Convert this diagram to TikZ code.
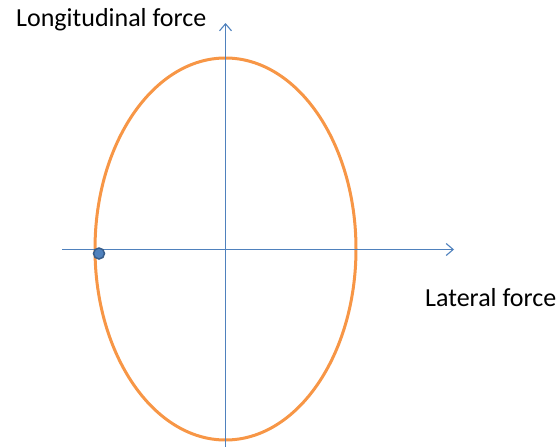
\documentclass[tikz,border=0pt]{standalone}
\usepackage{fontspec}
\setmainfont{Carlito}
\usetikzlibrary{arrows.meta}
\definecolor{axisblue}{RGB}{79,129,189}
\definecolor{ellorange}{RGB}{247,150,70}
\definecolor{dotedge}{RGB}{56,93,138}
\tikzset{
  axis/.style={draw=axisblue, line width=1.1pt, -{Straight Barb[length=7pt,width=12pt,line width=1.1pt]}},
  lbl/.style={font=\fontsize{26}{30}\selectfont, inner sep=0pt, anchor=base west, text=black},
  dotmark/.style={circle, fill=axisblue, draw=dotedge, line width=1.5pt, minimum size=11pt, inner sep=0pt}
}
\begin{document}
\begin{tikzpicture}[x=1pt,y=-1pt]
\useasboundingbox (0,0) rectangle (560,447);
\coordinate (xs) at (62,249.5);
\coordinate (xe) at (454,249.5);
\coordinate (ys) at (225.5,447);
\coordinate (ye) at (225.5,23);
\draw[ellorange, line width=3pt] (225.5,249) ellipse [x radius=130.5, y radius=191];
\draw[axis] (xs) -- (xe);
\draw[axis] (ys) -- (ye);
\node[dotmark] (pt) at (99,253.5) {};
\node[lbl] (long) at (16,26.7) {Longitudinal force};
\node[lbl] (lat) at (425,306.7) {Lateral force};
\end{tikzpicture}
\end{document}
